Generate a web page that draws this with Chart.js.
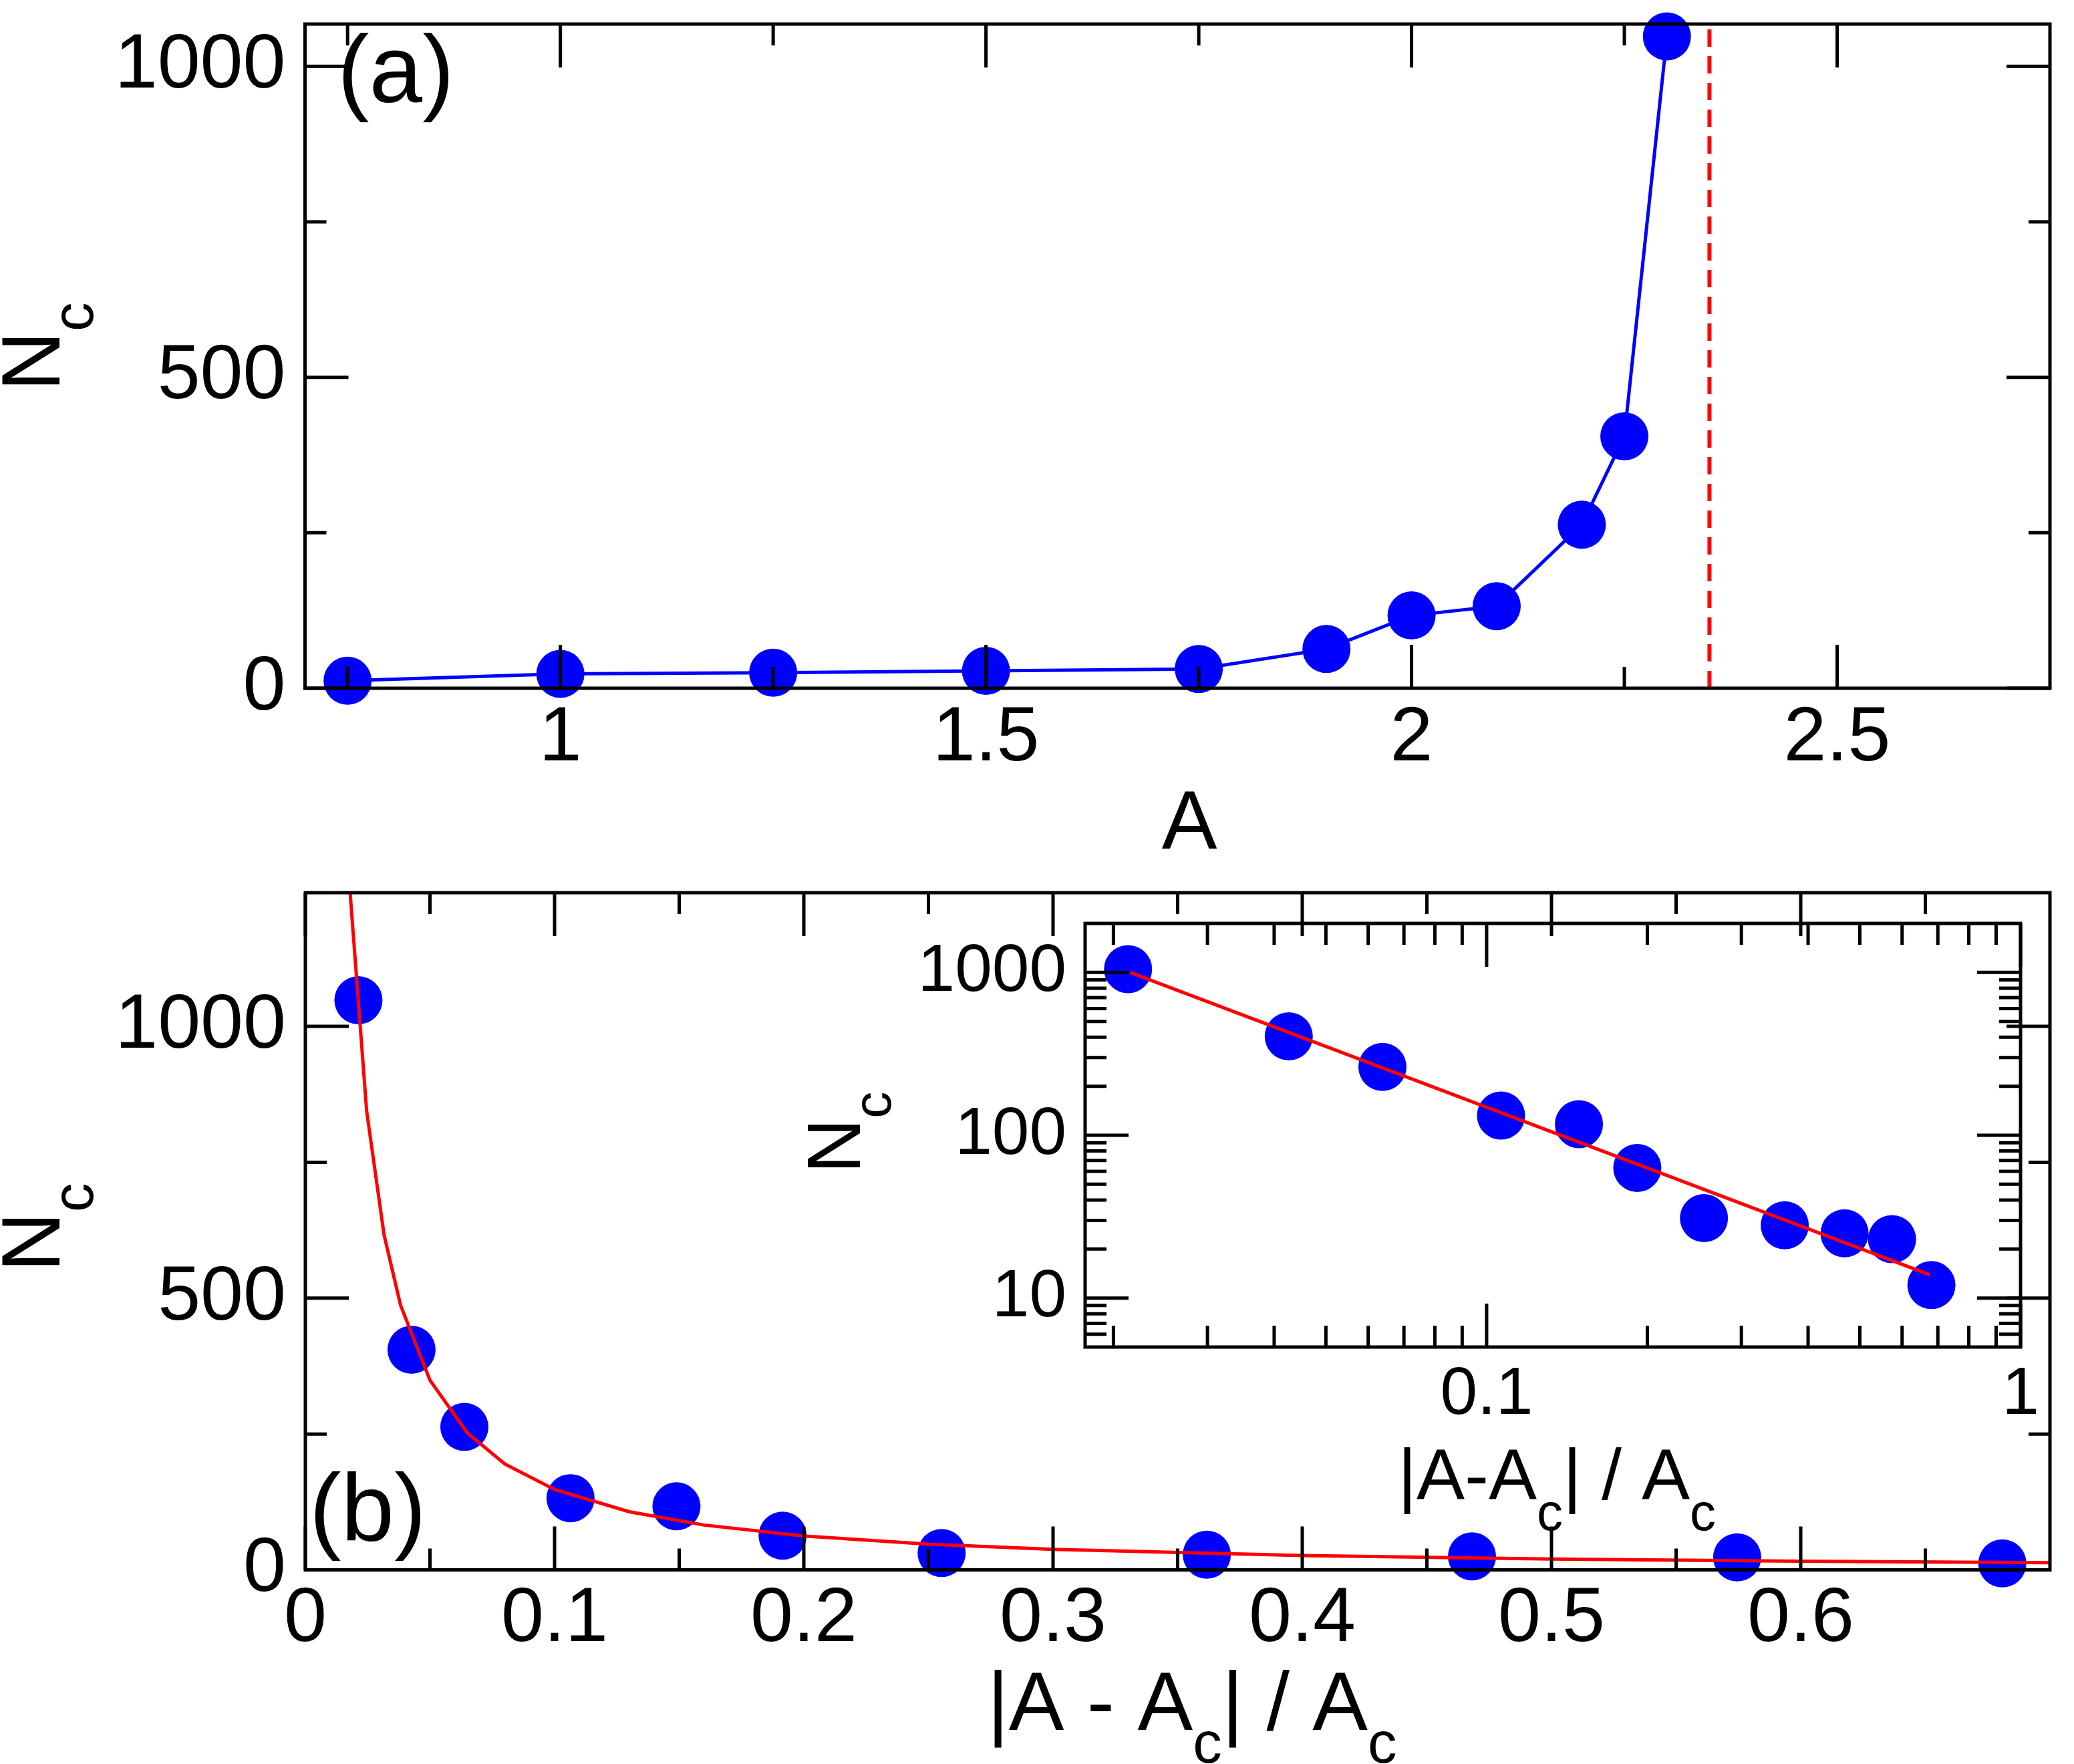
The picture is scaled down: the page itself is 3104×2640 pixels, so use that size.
<!DOCTYPE html>
<html>
<head>
<meta charset="utf-8">
<script src="https://cdn.jsdelivr.net/npm/chart.js@4.4.1/dist/chart.umd.min.js"></script>
<style>
  html, body { margin: 0; padding: 0; background: #fff; }
  canvas { position: absolute; left: 0; top: 0; width: 3104px; height: 2640px; }
</style>
</head>
<body>
<canvas id="panelA" width="3104" height="2640"></canvas>
<canvas id="panelB" width="3104" height="2640"></canvas>
<canvas id="inset" width="3104" height="2640"></canvas>
<script>
// measured points: control parameter A and critical size N_c
const aValues  = [0.75, 1.0, 1.25, 1.5, 1.75, 1.9, 2.0, 2.1, 2.2, 2.25, 2.3];
const ncValues = [12, 23, 25, 28, 31, 63, 117, 132, 263, 405, 1048];
// same points against |A - Ac| / Ac
const reducedA = [0.6809, 0.5745, 0.4681, 0.3617, 0.2553, 0.1915, 0.1489, 0.1064, 0.0638, 0.0426, 0.0213];

// dashed marker at A_c
const acLineX = [2.35, 2.35];
const acLineY = [0, 1068];

// fitted curve
const fitX = [0.0178, 0.0246, 0.0316, 0.0382, 0.05, 0.065, 0.08, 0.1, 0.13, 0.16, 0.2, 0.25, 0.3, 0.4, 0.5, 0.6, 0.7];
const fitY = [1256, 844, 616, 487, 349, 252, 195, 148, 107, 82.5, 62.5, 47.4, 37.8, 26.5, 20.1, 16.0, 13.2];
// fitted line in the inset
const insetFitX = [0.0215, 0.676];
const insetFitY = [1000, 13.9];

// ticks
const topXMajor = [1, 1.5, 2, 2.5];
const topXLabels = ['1', '1.5', '2', '2.5'];
const topXMinor = [0.75, 1.25, 1.75, 2.25];
const topYMajor = [0, 500, 1000];
const topYLabels = ['0', '500', '1000'];
const topYMinor = [250, 750];

const botXMajor = [0, 0.1, 0.2, 0.3, 0.4, 0.5, 0.6];
const botXLabels = ['0', '0.1', '0.2', '0.3', '0.4', '0.5', '0.6'];
const botXMinor = [0.05, 0.15, 0.25, 0.35, 0.45, 0.55, 0.65];
const botYMajor = [0, 500, 1000];
const botYLabels = ['0', '500', '1000'];
const botYMinor = [250, 750];

const insetXMajor = [0.1, 1];
const insetXLabels = ['0.1', '1'];
const insetXMinor = [0.02, 0.03, 0.04, 0.05, 0.06, 0.07, 0.08, 0.09, 0.2, 0.3, 0.4, 0.5, 0.6, 0.7, 0.8, 0.9];
const insetYMajor = [10, 100, 1000];
const insetYLabels = ['10', '100', '1000'];
const insetYMinor = [6, 7, 8, 9, 20, 30, 40, 50, 60, 70, 80, 90, 200, 300, 400, 500, 600, 700, 800, 900];

const FONT = '"Liberation Sans", Arial, sans-serif';
const BLUE = '#0000ff';
const RED = '#ff0000';

function pts(xs, ys) {
    return xs.map((x, i) => ({x: x, y: ys[i]}));
}

// text with subscripts, centred on (x, y) baseline, optionally turned 90 deg
function drawRich(ctx, parts, x, y, size, subSize, drop, rotated) {
    const widths = parts.map(p => {
        ctx.font = (p.sub ? subSize : size) + 'px ' + FONT;
        return ctx.measureText(p.t).width;
    });
    const total = widths.reduce((a, b) => a + b, 0);
    ctx.save();
    ctx.translate(x, y);
    if (rotated) ctx.rotate(-Math.PI / 2);
    ctx.textAlign = 'left';
    ctx.textBaseline = 'alphabetic';
    let cx = -total / 2;
    parts.forEach((p, i) => {
        ctx.font = (p.sub ? subSize : size) + 'px ' + FONT;
        ctx.fillText(p.t, cx, p.sub ? drop : 0);
        cx += widths[i];
    });
    ctx.restore();
}

// frame, inward ticks on all four sides, axis titles and panel label
function makeDecor(cfg) {
    return {
        id: 'decor',
        afterDraw(chart) {
            const ctx = chart.ctx;
            const area = chart.chartArea;
            const sx = chart.scales.x, sy = chart.scales.y;
            ctx.save();
            ctx.strokeStyle = '#000';
            ctx.lineWidth = 5;
            ctx.lineCap = 'butt';
            ctx.beginPath();
            const xTicks = (vals, len) => vals.forEach(v => {
                const p = sx.getPixelForValue(v);
                ctx.moveTo(p, area.bottom); ctx.lineTo(p, area.bottom - len);
                ctx.moveTo(p, area.top); ctx.lineTo(p, area.top + len);
            });
            const yTicks = (vals, len) => vals.forEach(v => {
                const p = sy.getPixelForValue(v);
                ctx.moveTo(area.left, p); ctx.lineTo(area.left + len, p);
                ctx.moveTo(area.right, p); ctx.lineTo(area.right - len, p);
            });
            xTicks(cfg.xMajor, cfg.major); xTicks(cfg.xMinor, cfg.minor);
            yTicks(cfg.yMajor, cfg.major); yTicks(cfg.yMinor, cfg.minor);
            ctx.stroke();
            ctx.lineJoin = 'miter';
            ctx.strokeRect(area.left, area.top, area.right - area.left, area.bottom - area.top);

            ctx.fillStyle = '#000';
            const t = cfg.xTitle;
            drawRich(ctx, t.parts, t.x, t.y, t.size, t.sub, t.drop, false);
            const u = cfg.yTitle;
            drawRich(ctx, u.parts, u.x, u.y, u.size, u.sub, u.drop, true);
            if (cfg.label) {
                ctx.font = cfg.label.size + 'px ' + FONT;
                ctx.textAlign = 'left';
                ctx.textBaseline = 'alphabetic';
                ctx.fillText(cfg.label.text, cfg.label.x, cfg.label.y);
            }
            ctx.restore();
        }
    };
}

// place the plot box exactly: left = y axis width, bottom = x axis height
function fixAxisWidth(w) {
    return function (scale) {
        scale.width = w;
        scale.paddingTop = 0; scale.paddingBottom = 0;
        scale.paddingLeft = 0; scale.paddingRight = 0;
    };
}
function fixAxisHeight(h) {
    return function (scale) {
        scale.height = h;
        scale.paddingTop = 0; scale.paddingBottom = 0;
        scale.paddingLeft = 0; scale.paddingRight = 0;
    };
}
function setTicks(vals) {
    return function (scale) {
        scale.ticks = vals.map(v => ({value: v}));
    };
}

function makeChart(id, box, scales, datasets, decor) {
    const xs = scales.x, ys = scales.y;
    return new Chart(document.getElementById(id), {
        type: 'scatter',
        data: {datasets: datasets},
        options: {
            responsive: false,
            animation: false,
            devicePixelRatio: 1,
            events: [],
            layout: {padding: {left: 0, top: box.top, right: 3104 - box.right, bottom: 0}},
            plugins: {legend: {display: false}, tooltip: {enabled: false}},
            scales: {
                x: {
                    type: xs.type, position: 'bottom', min: xs.min, max: xs.max,
                    grid: {display: false, drawTicks: false},
                    border: {display: false},
                    afterBuildTicks: setTicks(xs.major),
                    afterFit: fixAxisHeight(2640 - box.bottom),
                    ticks: {
                        autoSkip: false, maxRotation: 0, color: '#000', padding: xs.pad,
                        font: {family: FONT, size: xs.font},
                        callback: (v, i) => xs.labels[i]
                    }
                },
                y: {
                    type: ys.type, position: 'left', min: ys.min, max: ys.max,
                    grid: {display: false, drawTicks: false},
                    border: {display: false},
                    afterBuildTicks: setTicks(ys.major),
                    afterFit: fixAxisWidth(box.left),
                    ticks: {
                        autoSkip: false, color: '#000', padding: ys.pad,
                        font: {family: FONT, size: ys.font},
                        callback: (v, i) => ys.labels[i]
                    }
                }
            }
        },
        plugins: [makeDecor(decor)]
    });
}

const markerStyle = {
    pointRadius: 36, pointHoverRadius: 36, pointBorderWidth: 0,
    pointBackgroundColor: BLUE, pointBorderColor: BLUE, clip: false
};
const ncSub = [{t: 'N'}, {t: 'c', sub: true}];

// panel (a)
makeChart('panelA',
    {left: 456.5, right: 3101, top: 16.5, bottom: 1030},
    {
        x: {type: 'linear', min: 0.7, max: 2.75, major: topXMajor, labels: topXLabels, font: 115, pad: 7},
        y: {type: 'linear', min: 0, max: 1068, major: topYMajor, labels: topYLabels, font: 115, pad: 29}
    },
    [
        Object.assign({
            data: pts(aValues, ncValues), showLine: true,
            borderColor: BLUE, borderWidth: 5
        }, markerStyle),
        {
            data: pts(acLineX, acLineY), showLine: true, pointRadius: 0,
            borderColor: RED, borderWidth: 6, borderDash: [26, 14]
        }
    ],
    {
        xMajor: topXMajor, xMinor: topXMinor, yMajor: topYMajor, yMinor: topYMinor,
        major: 65, minor: 32,
        xTitle: {parts: [{t: 'A'}], x: 1780, y: 1270, size: 124, sub: 87, drop: 50},
        yTitle: {parts: ncSub, x: 89, y: 519, size: 124, sub: 87, drop: 50},
        label: {text: '(a)', x: 505, y: 153, size: 143}
    });

// panel (b)
makeChart('panelB',
    {left: 457, right: 3101, top: 1336, bottom: 2349.5},
    {
        x: {type: 'linear', min: 0, max: 0.7, major: botXMajor, labels: botXLabels, font: 115, pad: 6},
        y: {type: 'linear', min: 0, max: 1246, major: botYMajor, labels: botYLabels, font: 115, pad: 29}
    },
    [
        {
            data: pts(fitX, fitY), showLine: true, pointRadius: 0,
            borderColor: RED, borderWidth: 5
        },
        Object.assign({data: pts(reducedA, ncValues)}, markerStyle)
    ],
    {
        xMajor: botXMajor, xMinor: botXMinor, yMajor: botYMajor, yMinor: botYMinor,
        major: 65, minor: 32,
        xTitle: {parts: [{t: '|A - A'}, {t: 'c', sub: true}, {t: '| / A'}, {t: 'c', sub: true}],
                 x: 1784, y: 2589, size: 124, sub: 87, drop: 49},
        yTitle: {parts: ncSub, x: 89, y: 1837, size: 124, sub: 87, drop: 50},
        label: {text: '(b)', x: 463, y: 2306, size: 143}
    });

// inset, log-log
makeChart('inset',
    {left: 1624, right: 3024, top: 1382, bottom: 2016},
    {
        x: {type: 'logarithmic', min: 0.0177, max: 1, major: insetXMajor, labels: insetXLabels, font: 100, pad: 12},
        y: {type: 'logarithmic', min: 5, max: 2000, major: insetYMajor, labels: insetYLabels, font: 100, pad: 28}
    },
    [
        {
            data: pts(insetFitX, insetFitY), showLine: true, pointRadius: 0,
            borderColor: RED, borderWidth: 5
        },
        Object.assign({data: pts(reducedA, ncValues)}, markerStyle)
    ],
    {
        xMajor: insetXMajor, xMinor: insetXMinor, yMajor: insetYMajor, yMinor: insetYMinor,
        major: 65, minor: 32,
        xTitle: {parts: [{t: '|A-A'}, {t: 'c', sub: true}, {t: '| / A'}, {t: 'c', sub: true}],
                 x: 2330, y: 2244, size: 108, sub: 78, drop: 46},
        yTitle: {parts: ncSub, x: 1287, y: 1695, size: 114, sub: 80, drop: 46}
    });
</script>
</body>
</html>
